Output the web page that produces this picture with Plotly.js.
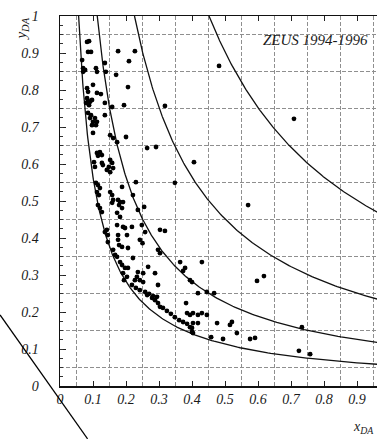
<!DOCTYPE html>
<html>
<head>
<meta charset="utf-8">
<script src="https://cdn.plot.ly/plotly-3.0.1.min.js"></script>
<style>
html,body{margin:0;padding:0;background:#fff;overflow:hidden;}
#chart{width:377px;height:439px;}
</style>
</head>
<body>
<div id="chart"></div>
<script>
// Event positions (x_DA, y_DA)
const xDA = [0.082,0.088,0.085,0.094,0.067,0.070,0.076,0.070,0.109,0.112,0.136,0.139,0.170,0.176,0.209,0.227,0.206,0.100,0.082,0.085,
0.112,0.124,0.082,0.085,0.091,0.097,0.079,0.088,0.136,0.158,0.194,0.318,0.085,0.094,0.091,0.100,0.112,0.106,0.136,0.097,
0.109,0.100,0.152,0.161,0.173,0.200,0.264,0.291,0.112,0.121,0.127,0.115,0.103,0.106,0.127,0.130,0.152,0.158,0.148,0.161,
0.152,0.142,0.109,0.115,0.121,0.112,0.118,0.188,0.230,0.152,0.158,0.161,0.158,0.176,0.182,0.191,0.179,0.188,0.221,0.115,
0.121,0.127,0.173,0.182,0.236,0.255,0.348,0.142,0.145,0.136,0.145,0.173,0.191,0.176,0.176,0.179,0.188,0.197,0.203,0.218,
0.248,0.258,0.242,0.206,0.161,0.167,0.173,0.221,0.182,0.188,0.197,0.191,0.203,0.194,0.206,0.236,0.233,0.227,0.242,0.252,
0.267,0.288,0.218,0.230,0.242,0.258,0.270,0.282,0.294,0.297,0.303,0.318,0.250,0.297,0.303,0.364,0.379,0.373,0.430,0.394,
0.252,0.264,0.279,0.288,0.297,0.303,0.312,0.324,0.336,0.348,0.361,0.373,0.385,0.394,0.382,0.385,0.394,0.403,0.418,0.400,
0.403,0.400,0.418,0.445,0.467,0.597,0.618,0.430,0.445,0.403,0.418,0.400,0.476,0.515,0.521,0.458,0.494,0.536,0.576,0.591,
0.733,0.724,0.758,0.482,0.709,0.406,0.570];
const yDA = [0.930,0.932,0.903,0.903,0.881,0.859,0.854,0.849,0.859,0.849,0.873,0.849,0.841,0.905,0.878,0.905,0.808,0.814,0.805,0.795,
0.792,0.789,0.778,0.770,0.768,0.773,0.765,0.759,0.765,0.754,0.759,0.757,0.738,0.732,0.724,0.714,0.714,0.724,0.732,0.705,
0.705,0.684,0.678,0.670,0.659,0.673,0.643,0.646,0.630,0.632,0.624,0.622,0.605,0.592,0.603,0.597,0.611,0.603,0.592,0.589,
0.578,0.584,0.549,0.543,0.535,0.524,0.516,0.538,0.551,0.524,0.516,0.503,0.495,0.503,0.497,0.497,0.489,0.481,0.516,0.489,
0.481,0.470,0.468,0.457,0.476,0.484,0.549,0.422,0.408,0.416,0.389,0.435,0.430,0.408,0.395,0.381,0.376,0.427,0.408,0.430,
0.435,0.416,0.395,0.373,0.368,0.354,0.349,0.346,0.335,0.327,0.319,0.305,0.295,0.286,0.319,0.308,0.295,0.286,0.286,0.281,
0.322,0.305,0.273,0.265,0.259,0.254,0.249,0.243,0.241,0.273,0.422,0.419,0.386,0.368,0.359,0.335,0.319,0.311,0.335,0.286,
0.305,0.246,0.238,0.232,0.224,0.214,0.211,0.203,0.195,0.186,0.178,0.173,0.168,0.159,0.224,0.197,0.192,0.197,0.192,0.146,
0.143,0.281,0.251,0.254,0.251,0.284,0.297,0.197,0.192,0.170,0.170,0.157,0.170,0.165,0.173,0.132,0.127,0.143,0.127,0.130,
0.159,0.095,0.086,0.865,0.722,0.605,0.489];

// Lines of constant Q^2 (GeV^2): y = Q^2 / (s x)
const Q2values = [5000, 10000, 20000, 40000];
const sCM = 88600;

const xMax = 0.9606;
const traces = [];
Q2values.forEach(q => {
  const x0 = q / sCM;
  const xs = [], ys = [];
  const n = 200;
  for (let i = 0; i <= n; i++) {
    const x = x0 * Math.pow(xMax * 1.02 / x0, i / n);
    xs.push(x); ys.push(q / (sCM * x));
  }
  traces.push({x: xs, y: ys, mode: 'lines', line: {color: '#111', width: 1.3}, hoverinfo: 'skip', showlegend: false});
});
traces.push({x: xDA, y: yDA, mode: 'markers', marker: {color: '#000', size: 4.8}, showlegend: false});
traces.push({x: [], y: [], yaxis: 'y2', mode: 'markers', showlegend: false});

const serif = 'Liberation Serif, Times New Roman, serif';
const tickFont = {family: serif, size: 14, color: '#1a1a1a', style: 'italic'};
const gridStyle = {showgrid: true, gridcolor: '#8f8f8f', gridwidth: 1, griddash: '4px,2px', ticks: '', tickmode: 'linear', tick0: 0.05, dtick: 0.1};

const layout = {
  width: 377, height: 439,
  margin: {l: 60, r: 0, t: 16, b: 53},
  paper_bgcolor: '#fff', plot_bgcolor: '#fff',
  showlegend: false,
  xaxis: {
    range: [0, xMax], tickmode: 'linear', tick0: 0, dtick: 0.1,
    ticks: 'inside', ticklen: 5, tickcolor: '#222', tickwidth: 1,
    showline: true, linecolor: '#111', linewidth: 1.5, mirror: 'ticks',
    showgrid: false, zeroline: false, tickfont: tickFont,
    minor: gridStyle
  },
  yaxis: {
    range: [0, 1], tickmode: 'linear', tick0: 0, dtick: 0.1,
    ticks: 'inside', ticklen: 6, tickcolor: '#222', tickwidth: 1,
    showline: true, linecolor: '#111', linewidth: 1.5,
    showgrid: false, zeroline: false, tickfont: tickFont, ticklabelstandoff: 17,
    minor: gridStyle
  },
  yaxis2: {
    range: [0, 1], overlaying: 'y', anchor: 'x', side: 'left',
    tickmode: 'linear', tick0: 0, dtick: 0.025,
    ticks: 'inside', ticklen: 3, tickcolor: '#333', tickwidth: 1,
    showticklabels: false, showgrid: false, zeroline: false, showline: false
  },
  annotations: [
    {xref: 'paper', yref: 'paper', x: 0.978, y: 0.935, xanchor: 'right', yanchor: 'middle',
     text: 'ZEUS 1994-1996', showarrow: false,
     font: {family: serif, size: 15, color: '#1a1a1a', style: 'italic'}},
    {xref: 'paper', yref: 'paper', x: -0.121, y: 0.965, xanchor: 'center', yanchor: 'middle',
     text: 'y<sub>DA</sub>', textangle: -90, showarrow: false,
     font: {family: serif, size: 15, color: '#1a1a1a', style: 'italic'}},
    {xref: 'paper', yref: 'paper', x: 0.997, y: -0.1135, xanchor: 'right', yanchor: 'middle',
     text: 'x<sub>DA</sub>', showarrow: false,
     font: {family: serif, size: 14, color: '#1a1a1a', style: 'italic'}}
  ],
  shapes: [
    {type: 'line', xref: 'paper', yref: 'paper', x0: -0.189, y0: 0.192, x1: 0.087, y1: -0.143,
     line: {color: '#000', width: 1.2}}
  ]
};

Plotly.newPlot('chart', traces, layout, {staticPlot: true, displayModeBar: false});
</script>
</body>
</html>
